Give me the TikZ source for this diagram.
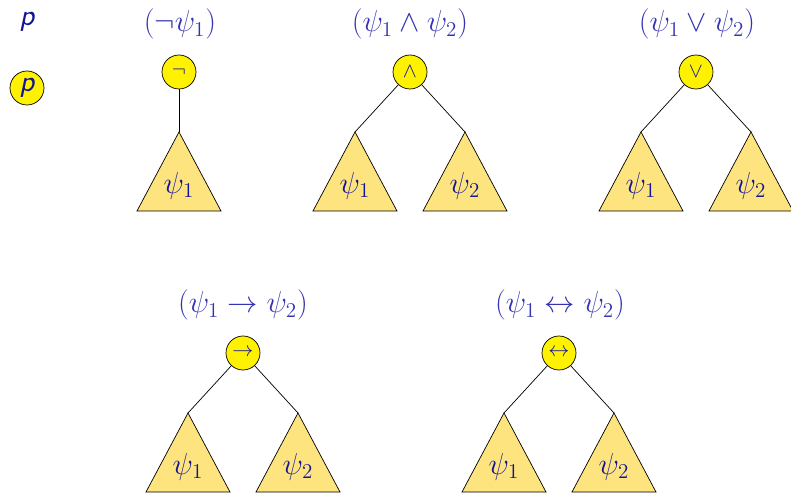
\documentclass[tikz,border=0pt]{standalone}
\usepackage{amsmath}
\usepackage{amssymb}
\usepackage{xcolor}
\usepackage{tikz}

\definecolor{titleblue}{RGB}{51,51,179}
\definecolor{textblue}{RGB}{20,20,150}
\definecolor{treefill}{RGB}{253,228,127}

% subtree triangle: name, apex, label
\newcommand{\subtree}[3]{%
  \coordinate (#1) at #2;
  \draw[tree] (#1) -- ++(-0.84,-1.58) -- ++(1.68,0) -- cycle;
  \node[textblue, font=\LARGE] (#1-lab) at ([yshift=-1.07cm]#1) {$#3$};
}

\begin{document}
\begin{tikzpicture}[
    op/.style={circle, draw, fill=yellow, inner sep=0pt, minimum size=0.68cm, font=\large, text=textblue},
    tree/.style={draw, fill=treefill},
    title/.style={titleblue, font=\LARGE}]
    \useasboundingbox (0,0) rectangle (15.82,9.84);

    % Atom
    \node[textblue, font=\LARGE\sffamily\slshape] (p-title) at (0.54, 9.40) {p};
    \node[op, font=\LARGE\sffamily\slshape] (p) at (0.54, 8.08) {p};

    % Negation
    \node[title] (neg-title) at (3.6, 9.36) {$(\neg\psi_1)$};
    \node[op] (neg) at (3.58, 8.40) {$\neg$};
    \subtree{neg-a}{(3.58, 7.2)}{\psi_1}
    \draw (neg) -- (neg-a);

    % Conjunction
    \node[title] (and-title) at (8.2, 9.36) {$(\psi_1 \wedge \psi_2)$};
    \node[op] (and) at (8.2, 8.40) {$\wedge$};
    \subtree{and-a}{(7.1, 7.2)}{\psi_1}
    \subtree{and-b}{(9.3, 7.2)}{\psi_2}
    \draw (and) -- (and-a);
    \draw (and) -- (and-b);

    % Disjunction
    \node[title] (or-title) at (13.94, 9.36) {$(\psi_1 \vee \psi_2)$};
    \node[op] (or) at (13.92, 8.40) {$\vee$};
    \subtree{or-a}{(12.82, 7.2)}{\psi_1}
    \subtree{or-b}{(15.02, 7.2)}{\psi_2}
    \draw (or) -- (or-a);
    \draw (or) -- (or-b);

    % Implication
    \node[title] (imp-title) at (4.86, 3.74) {$(\psi_1 \rightarrow \psi_2)$};
    \node[op] (imp) at (4.86, 2.78) {$\rightarrow$};
    \subtree{imp-a}{(3.76, 1.58)}{\psi_1}
    \subtree{imp-b}{(5.96, 1.58)}{\psi_2}
    \draw (imp) -- (imp-a);
    \draw (imp) -- (imp-b);

    % Equivalence
    \node[title] (iff-title) at (11.2, 3.74) {$(\psi_1 \leftrightarrow \psi_2)$};
    \node[op] (iff) at (11.18, 2.78) {$\leftrightarrow$};
    \subtree{iff-a}{(10.08, 1.58)}{\psi_1}
    \subtree{iff-b}{(12.28, 1.58)}{\psi_2}
    \draw (iff) -- (iff-a);
    \draw (iff) -- (iff-b);
\end{tikzpicture}
\end{document}
